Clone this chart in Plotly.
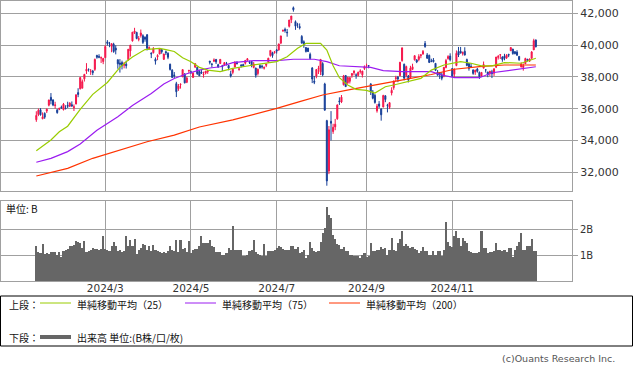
import plotly.graph_objects as go
import pandas as pd

# ---------------- data ----------------
holidays = ["2024-02-12", "2024-02-23", "2024-03-20", "2024-04-29", "2024-05-03", "2024-05-06",
            "2024-07-15", "2024-08-12", "2024-09-16", "2024-09-23", "2024-10-14", "2024-11-04"]
dates = [d for d in pd.bdate_range("2024-01-12", "2024-12-30") if d.strftime("%Y-%m-%d") not in holidays]

opens = [35305,35634,35938,35365,35705,35853,36223,36717,36556,36199,35931,35956,36107,35940,36034,36206,36162,36253,36076,36295,
         37012,37249,37289,37879,38365,38474,38359,38375,38473,39353,39290,39193,38967,39206,40201,40110,39918,40054,39809,39078,
         38877,38904,38727,38803,39088,39637,40265,40787,40798,40364,40607,40594,40496,40646,39774,39487,39519,39109,39265,39436,
         39716,39105,39583,39488,38800,38425,38122,37575,37257,37522,38003,38184,37658,38377,38319,37965,38606,38591,38346,38301,
         38144,38235,38323,38997,38791,38985,39097,38768,38842,38702,38742,38872,38717,38191,38282,38628,38908,38481,38744,38787,
         38859,39067,38908,38977,38599,38555,38211,38713,38677,38543,38726,38946,39341,39526,39537,39695,39698,40125,40883,40990,
         40807,41183,41594,42350,41476,41277,41165,40547,40212,39847,39812,39420,38557,37731,38047,38490,38324,38838,37554,35249,
         32077,35204,34567,34856,35367,36486,36423,37508,38090,37637,37723,38097,38260,38118,38092,38340,38129,38527,38687,38703,
         37562,37044,36839,35867,36294,35981,36111,36810,36222,36081,36989,37328,37897,37985,38072,39024,38795,38089,38058,37951,
         38472,39074,39070,39096,39344,39443,40100,39380,39354,38985,39062,38852,38308,38229,38130,38064,38594,39159,39309,38525,
         38168,38718,39607,39615,39467,39611,39087,38839,38658,38436,38313,38494,38280,38050,38551,38447,38305,38249,38320,38231,
         38615,39233,39382,39253,39307,39195,39410,39647,39752,39585,39559,39291,38627,38597,38829,39115,38988,39166,39700,40325]
highs = [35839,36008,36035,35768,35772,36015,36571,36984,36568,36436,35954,36056,36196,36360,36218,36441,36407,36456,36266,36922,
         37287,37963,37834,38191,38865,38529,38495,38440,39156,39388,39426,39285,39166,39990,40314,40200,40117,40147,39989,39085,
         39118,39023,38943,39022,39744,40004,40815,41087,40837,40572,40979,40681,40552,40697,39922,39549,39876,39224,39426,39774,
         39719,39456,39656,39551,38832,38486,38305,37691,37552,37562,38461,38232,38019,38448,38396,38286,38863,38636,38443,38430,
         38330,38380,38438,38997,38879,39167,39130,38823,39125,38758,38926,38943,38758,38387,38530,38994,38992,38577,38804,38822,
         39058,39188,39020,38985,38934,38576,38530,38793,38758,38659,38827,39203,39682,39583,39634,39756,40089,40580,40989,41100,
         41012,41580,41831,42426,41552,41400,41365,40627,40298,39870,39830,39530,38618,38061,38480,38695,39101,38927,37631,35301,
         34911,35849,35052,35359,36274,36716,36861,38124,38110,38010,37986,38229,38418,38223,38335,38480,38388,38723,38833,38746,
         37586,37175,36935,36294,36479,36021,36873,36852,36308,36414,37348,37783,38071,38061,38925,39829,38838,38708,38120,38698,
         38830,39363,39113,39426,39443,39690,40257,39500,39402,39144,39188,38867,38437,38311,38292,38605,39133,39363,39484,38549,
         38540,39664,39884,39884,39598,39866,39150,38875,38865,38473,38458,38563,38340,38303,38969,38464,38323,38386,38446,38527,
         39260,39380,39426,39296,39453,39434,39460,39849,39763,39615,39680,39291,38918,38843,39202,39120,39153,39627,40398,40350]
lows = [35173,35532,35564,35340,35362,35728,36146,36276,36159,36005,35687,35909,35982,35890,35949,36038,36106,36143,35854,36275,
        36725,37215,37289,37707,38184,38329,38126,38109,38377,39145,39174,38876,38801,39206,39970,39867,39551,39518,39418,38511,
        38271,38470,38538,38526,38999,39279,40222,40696,40367,40238,40474,40074,40215,39664,39728,39183,39478,38774,39054,39436,
        39458,39065,39372,39115,38401,37961,37918,36733,37121,37263,37990,37589,37610,38249,38178,37953,38597,38125,38049,38188,
        37951,38159,38189,38786,38595,38932,38815,38575,38813,38367,38699,38717,38416,37963,38161,38591,38777,38387,38593,38625,
        38780,39001,38811,38605,38540,37950,38088,38525,38522,38463,38615,38879,39275,39205,39458,39470,39648,40057,40848,40782,
        40528,41108,41386,42102,40958,41085,40985,40095,39828,39535,39566,39088,37611,37545,37913,38184,38113,38039,35880,31156,
        31886,34004,34417,34649,35305,36234,36353,37461,37388,37556,37585,37949,38097,37880,38028,38211,37960,38438,38555,38542,
        36862,36590,36318,35752,36040,35247,36081,36410,35769,35976,36836,37191,37710,37671,38061,38956,37786,37971,37651,37903,
        38427,39030,38867,38984,39176,39390,39831,39130,38871,38923,38910,38367,38104,37870,37788,37977,38537,39082,38980,37987,
        37993,38670,39248,39479,39342,39345,38674,38393,38590,38132,38127,38270,37875,38018,38548,38271,37980,38044,37928,38060,
        38555,39092,39126,38952,39044,39130,39245,39627,39393,39423,39334,39009,38598,38392,38826,38970,38946,39152,39699,39857]
closes = [35577,35901,35619,35477,35466,35963,36546,36517,36226,36236,35751,36026,36065,36286,36011,36158,36354,36160,36119,36863,
          36897,37963,37703,38157,38487,38470,38363,38262,39098,39233,39239,39208,39166,39910,40109,40097,40090,39598,39688,38820,
          38797,38695,38807,38707,39740,40003,40815,40888,40414,40398,40762,40168,40369,39803,39838,39451,39773,38992,39347,39773,
          39581,39442,39523,39233,38471,37962,38079,37068,37438,37552,38460,37628,37934,38405,38274,38236,38835,38202,38073,38229,
          38179,38356,38385,38920,38787,39069,38946,38617,39103,38646,38900,38855,38556,38054,38487,38923,38837,38490,38703,38683,
          39038,39134,38876,38720,38814,38102,38482,38570,38633,38596,38804,39173,39667,39341,39583,39631,40074,40580,40913,40912,
          40780,41580,41831,42224,41190,41275,41097,40126,40063,39599,39594,39154,37869,37667,38468,38525,39101,38126,35909,31458,
          34675,35089,34831,35025,36232,36442,36726,38062,37388,37963,37951,38211,38364,38110,38288,38371,38362,38647,38700,38686,
          37047,36657,36391,36159,36159,35619,36833,36581,36203,36380,37155,37723,37940,37870,38925,39829,37919,38651,37808,38552,
          38635,39332,38937,39277,39380,39605,39910,39180,38911,38981,38954,38411,38104,38143,37913,38605,39027,39277,39081,38053,
          38474,39480,39381,39500,39533,39376,38721,38536,38642,38220,38414,38352,38026,38283,38780,38442,38134,38349,38208,38513,
          39248,39276,39395,39091,39160,39367,39372,39849,39470,39457,39364,39081,38813,38701,39161,39036,39130,39568,40281,39894]
volume_b = [1.33,1.10,1.07,1.43,1.04,1.07,1.04,1.13,1.13,1.13,1.01,1.11,0.92,1.17,1.20,1.23,1.33,1.33,1.38,1.54,
            1.51,1.46,1.27,1.54,1.13,1.14,1.20,1.27,1.23,1.24,1.20,1.23,1.72,1.23,1.18,1.14,1.36,1.49,1.36,1.14,
            1.18,1.10,1.14,1.72,1.36,1.59,1.36,1.61,1.04,1.20,1.27,1.43,1.40,1.20,1.33,1.14,1.40,1.20,1.14,1.10,
            1.07,1.10,1.07,1.14,1.36,1.20,1.14,1.56,1.11,1.59,1.23,1.27,1.10,1.55,1.07,1.20,1.24,1.24,1.36,1.72,
            1.46,1.46,1.46,1.59,1.36,1.31,1.10,1.10,1.10,1.01,1.01,1.07,1.27,1.20,2.13,1.20,1.20,1.20,1.20,0.97,
            0.95,1.01,1.14,1.20,1.59,1.10,1.05,1.01,0.95,1.43,0.95,1.14,1.14,1.17,1.20,1.27,1.36,1.31,1.23,1.18,
            1.18,1.20,1.36,1.33,1.23,1.31,1.07,1.11,1.20,0.88,1.01,1.49,1.27,1.14,1.10,1.14,1.49,1.84,2.04,2.84,
            2.55,2.42,1.78,1.61,1.43,1.40,1.23,1.29,1.17,1.14,1.01,1.01,0.97,0.95,0.95,0.88,1.01,1.07,0.92,0.95,
            1.46,1.14,1.14,1.20,1.20,1.31,1.23,1.27,1.01,1.18,1.65,1.18,1.14,1.46,1.61,1.92,1.33,1.43,1.33,1.27,
            1.29,1.23,1.20,1.07,1.14,1.31,1.14,1.14,1.01,1.01,1.14,1.01,1.14,1.14,0.95,1.20,2.26,1.49,1.33,1.29,
            1.74,1.93,1.65,1.33,1.65,1.55,1.46,1.14,1.10,1.07,1.07,1.07,1.10,1.93,1.27,1.27,1.07,1.10,1.10,1.14,
            1.46,1.20,1.18,1.14,1.18,1.11,1.27,1.27,0.92,1.18,1.33,1.49,1.84,1.20,1.20,1.33,1.36,1.61,1.14,1.14]

# moving averages (trading-day index, value)
ma25_day = [0,7,11,15,21,27,34,40,43,46,52,59,62,66,70,74,78,82,88,94,104,115,120,125,129,136,139,142,145,149,
            153,158,162,167,171,178,184,189,195,203,208,213,218,224,232,239]
ma25_val = [33360,34030,34550,34900,35960,36900,37650,38600,38950,39250,39720,39800,39720,39600,39200,38950,38600,38430,
            38330,38540,38750,38960,39270,39800,40110,40110,39690,38700,37950,37490,37220,37150,36980,37380,37490,37700,
            37910,38430,38750,38960,38860,38690,38690,38900,38860,39170]
ma75_day = [0,7,15,21,29,34,39,46,50,55,61,66,72,78,83,88,94,104,115,123,133,139,145,155,160,166,175,189,194,200,
            212,218,227,237,239]
ma75_val = [32630,32880,33300,33780,34650,35050,35500,36200,36550,36950,37550,37900,38200,38430,38560,38640,38900,39020,
            39020,39110,39110,38960,38700,38640,38600,38400,38330,38330,38120,37950,37950,38260,38430,38600,38640]
ma200_day = [0,15,27,40,53,66,78,94,115,126,137,150,157,164,174,189,200,212,224,239]
ma200_val = [31770,32250,32880,33400,33920,34340,34850,35300,36020,36450,36860,37200,37380,37550,37780,38150,38480,
             38650,38750,38750]

price_ticks = [32000, 34000, 36000, 38000, 40000, 42000]
vol_ticks = [1, 2]
vol_tick_text = ["1B", "2B"]
tick_months = [3, 5, 7, 9, 11]

legend_labels = ["単純移動平均（25）", "単純移動平均（75）", "単純移動平均（200）"]
volume_label = "出来高 単位:(B株/口/枚)"

# ---------------- styling / layout ----------------
W, H = 633, 374
L, R, T, B = 1, 572, 1, 281
PW, PH = R - L, B - T

def fx(x):
    return (x - L) / PW

def fy(y):
    return (B - y) / PH

RED = "#f5164b"
BLUE = "#173f98"
GREEN = "#99cc00"
PURPLE = "#9b1cf0"
ORANGE = "#ff3300"
GRID = "#a0a0a0"
VOLC = "#666666"

idx = list(range(len(closes)))
tick_idx, tick_txt = [], []
for m in tick_months:
    for i, d in enumerate(dates):
        if d.month == m:
            tick_idx.append(i)
            tick_txt.append(f"{d.year}/{m}")
            break

fig = go.Figure()
fig.add_trace(go.Candlestick(
    x=idx, open=opens, high=highs, low=lows, close=closes,
    xaxis="x2", yaxis="y",
    increasing=dict(line=dict(color=RED, width=1), fillcolor=RED),
    decreasing=dict(line=dict(color=BLUE, width=1), fillcolor=BLUE),
    whiskerwidth=0, showlegend=False, hoverinfo="skip"))
fig.add_trace(go.Scatter(x=ma200_day, y=ma200_val, xaxis="x2", yaxis="y", mode="lines",
                         line=dict(color=ORANGE, width=1.2), showlegend=False, hoverinfo="skip"))
fig.add_trace(go.Scatter(x=ma75_day, y=ma75_val, xaxis="x2", yaxis="y", mode="lines",
                         line=dict(color=PURPLE, width=1.2), showlegend=False, hoverinfo="skip"))
fig.add_trace(go.Scatter(x=ma25_day, y=ma25_val, xaxis="x2", yaxis="y", mode="lines",
                         line=dict(color=GREEN, width=1.2), showlegend=False, hoverinfo="skip"))
fig.add_trace(go.Bar(x=idx, y=volume_b, xaxis="x", yaxis="y2", marker=dict(color=VOLC, line=dict(width=0)),
                     showlegend=False, hoverinfo="skip"))

xr = [-16.9, 256.3]
tickfont = dict(family="DejaVu Sans", size=11, color="#333333")
common_x = dict(range=xr, showgrid=True, gridcolor=GRID, gridwidth=1, showline=True, mirror=True,
                linecolor=GRID, linewidth=1, zeroline=False, tickvals=tick_idx, fixedrange=True)

fig.update_layout(
    width=W, height=H, paper_bgcolor="white", plot_bgcolor="white",
    margin=dict(l=L, r=W - R, t=T, b=H - B, pad=0),
    bargap=0, showlegend=False,
    xaxis=dict(common_x, anchor="y2", domain=[0, 1], ticktext=tick_txt, ticks="",
               tickfont=dict(family="DejaVu Sans", size=10.5, color="#333333"),
               ticklabelstandoff=-3, rangeslider=dict(visible=False)),
    xaxis2=dict(common_x, anchor="y", domain=[0, 1], matches="x", showticklabels=False, ticks="",
                rangeslider=dict(visible=False)),
    yaxis=dict(domain=[fy(191), 1], side="right", range=[30824, 42774], tickvals=price_ticks,
               tickformat=",d", showgrid=True, gridcolor=GRID, showline=True, mirror=True, linecolor=GRID,
               ticks="outside", ticklen=5, tickcolor=GRID, tickfont=tickfont, zeroline=False, fixedrange=True),
    yaxis2=dict(domain=[0, fy(201)], side="right", range=[0, 3.08], tickvals=vol_ticks, ticktext=vol_tick_text,
                showgrid=True, gridcolor=GRID, showline=True, mirror=True, linecolor=GRID,
                ticks="outside", ticklen=5, tickcolor=GRID, tickfont=dict(family="DejaVu Sans", size=10, color="#333333"),
                zeroline=False, fixedrange=True),
)

shapes = [dict(type="rect", xref="paper", yref="paper", x0=fx(0.5), x1=fx(632.5), y0=fy(346), y1=fy(296),
               line=dict(color="black", width=1), fillcolor="rgba(0,0,0,0)")]
for x0, c in [(40, GREEN), (185, PURPLE), (329, ORANGE)]:
    shapes.append(dict(type="line", xref="paper", yref="paper", x0=fx(x0), x1=fx(x0 + 31), y0=fy(303), y1=fy(303),
                       line=dict(color=c, width=1)))
shapes.append(dict(type="line", xref="paper", yref="paper", x0=fx(40), x1=fx(71), y0=fy(337), y1=fy(337),
                   line=dict(color=VOLC, width=4)))
fig.update_layout(shapes=shapes)

jp = dict(family="Noto Sans CJK JP", size=10, color="#111111")
anns = [
    dict(text="単位: B", x=fx(4), y=fy(208), font=dict(family="Noto Sans CJK JP", size=10, color="#111111")),
    dict(text="上段：", x=fx(7), y=fy(304), font=jp),
    dict(text="下段：", x=fx(7), y=fy(337), font=jp),
    dict(text=legend_labels[0], x=fx(75), y=fy(304), font=jp),
    dict(text=legend_labels[1], x=fx(220), y=fy(304), font=jp),
    dict(text=legend_labels[2], x=fx(364), y=fy(304), font=jp),
    dict(text=volume_label, x=fx(75), y=fy(337), font=jp),
]
for a in anns:
    a.update(xref="paper", yref="paper", xanchor="left", yanchor="middle", showarrow=False)
anns.append(dict(text="(c)Ouants Research Inc.", x=fx(617), y=fy(358), xref="paper", yref="paper",
                 xanchor="right", yanchor="middle", showarrow=False,
                 font=dict(family="DejaVu Sans", size=9.5, color="#555555")))
fig.update_layout(annotations=anns)

fig.write_html("out.html", config=dict(displayModeBar=False),
               post_script="document.body.style.margin='0';document.body.style.overflow='hidden';")
